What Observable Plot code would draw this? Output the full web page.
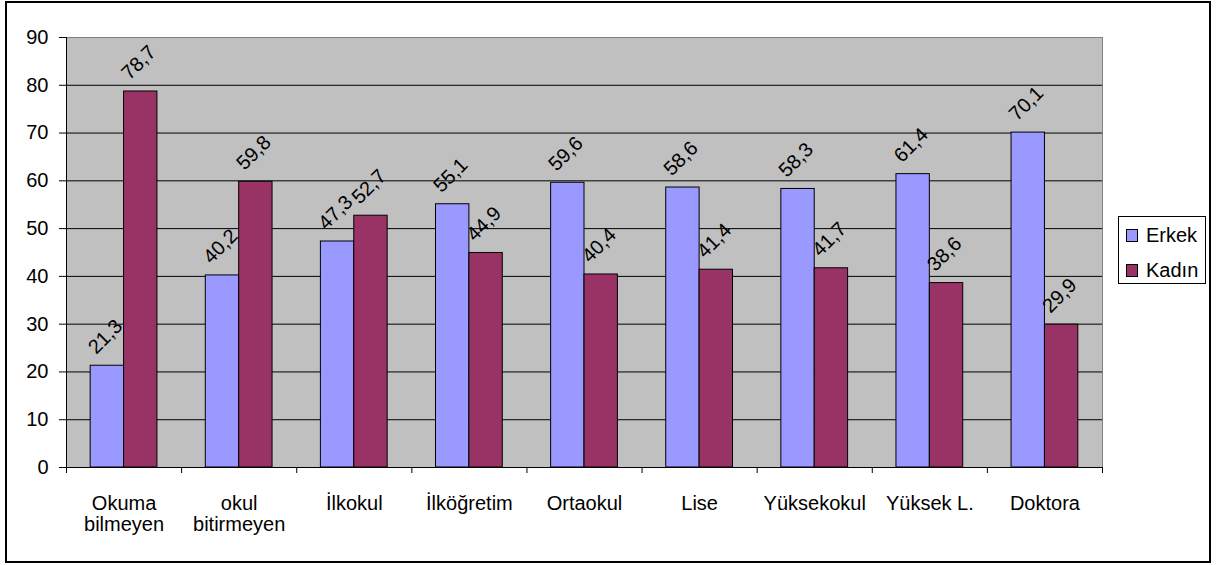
<!DOCTYPE html>
<html>
<head>
<meta charset="utf-8">
<script src="https://cdn.jsdelivr.net/npm/d3@7"></script>
<script src="https://cdn.jsdelivr.net/npm/@observablehq/plot@0.6"></script>
<style>
  html, body { margin: 0; padding: 0; background: #fff; }
  #wrap { position: relative; width: 1226px; height: 565px; font-family: "Liberation Sans", Arial, sans-serif; }
  #border { position: absolute; left: 5px; top: 1px; width: 1202px; height: 558px; border: 2px solid #000; pointer-events: none; }
  #legend { position: absolute; left: 1118px; top: 216px; width: 86px; height: 66px; border: 1px solid #000; background: #fff; font-size: 20px; }
  .row { position: absolute; left: 7px; height: 20px; line-height: 20px; display: flex; align-items: center; }
  .sw { width: 10px; height: 11px; border: 1px solid #000; margin-right: 8px; }
</style>
</head>
<body>
<div id="wrap">
  <div id="chart"></div>
  <div id="legend"></div>
  <div id="border"></div>
</div>
<script>
// Education level categories (x axis)
const categories = ["Okuma\nbilmeyen", "okul\nbitirmeyen", "İlkokul", "İlköğretim", "Ortaokul", "Lise", "Yüksekokul", "Yüksek L.", "Doktora"];
const seriesNames = ["Erkek", "Kadın"];
const erkek = [21.3, 40.2, 47.3, 55.1, 59.6, 58.6, 58.3, 61.4, 70.1];
const kadin = [78.7, 59.8, 52.7, 44.9, 40.4, 41.4, 41.7, 38.6, 29.9];
const yTicks = [0, 10, 20, 30, 40, 50, 60, 70, 80, 90];
const colors = ["#9999FF", "#993366"];

// Each category occupies one unit on x; the pair of bars sits in its middle
const gap = 0.21;
const rows = [];
categories.forEach((c, i) => {
  rows.push({cat: c, series: seriesNames[0], value: erkek[i], x1: i + gap, x2: i + 0.5});
  rows.push({cat: c, series: seriesNames[1], value: kadin[i], x1: i + 0.5, x2: i + 1 - gap});
});
const fmt = v => v.toFixed(1).replace(".", ",");

const chart = Plot.plot({
  width: 1226,
  height: 565,
  marginLeft: 66,
  marginRight: 124,
  marginTop: 37,
  marginBottom: 98,
  style: {fontFamily: "'Liberation Sans', Arial, sans-serif", fontSize: "20px", background: "transparent", color: "#000"},
  x: {domain: [0, categories.length], axis: null},
  y: {domain: [0, 90], axis: null},
  color: {domain: seriesNames, range: colors},
  marks: [
    Plot.frame({fill: "#C0C0C0", stroke: "#808080"}),
    Plot.ruleY(yTicks.filter(t => t > 0 && t < 90), {stroke: "#000", strokeWidth: 1}),
    Plot.rectY(rows, {x1: "x1", x2: "x2", y1: 0, y2: "value", fill: "series", stroke: "#000", strokeWidth: 1}),
    Plot.text(rows, {
      x: d => (d.x1 + d.x2) / 2,
      y: "value",
      text: d => fmt(d.value),
      rotate: -45,
      dx: -2,
      dy: -29,
      textAnchor: "middle",
      lineAnchor: "middle",
      fill: "#000",
      fontSize: 20
    }),
    Plot.ruleX([0], {stroke: "#000"}),
    Plot.ruleY([0], {stroke: "#000"}),
    Plot.axisY({ticks: yTicks, tickSize: 7, tickPadding: 11, fontSize: 20, label: null, tickFormat: d => String(d), stroke: "#000"}),
    Plot.axisX({ticks: d3.range(0, categories.length + 1), tickSize: 6, tickFormat: () => "", label: null, stroke: "#000"}),
    Plot.axisX({
      ticks: categories.map((c, i) => i + 0.5),
      tickSize: 0,
      tickPadding: 27,
      lineAnchor: "top",
      lineHeight: 1.07,
      fontSize: 20,
      label: null,
      tickFormat: v => categories[Math.floor(v)]
    })
  ]
});
document.getElementById("chart").appendChild(chart);

// Legend
const legend = document.getElementById("legend");
seriesNames.forEach((name, i) => {
  const row = document.createElement("div");
  row.className = "row";
  row.style.top = (8 + i * 35) + "px";
  const sw = document.createElement("div");
  sw.className = "sw";
  sw.style.background = colors[i];
  const label = document.createElement("span");
  label.textContent = name;
  row.appendChild(sw);
  row.appendChild(label);
  legend.appendChild(row);
});
</script>
</body>
</html>
